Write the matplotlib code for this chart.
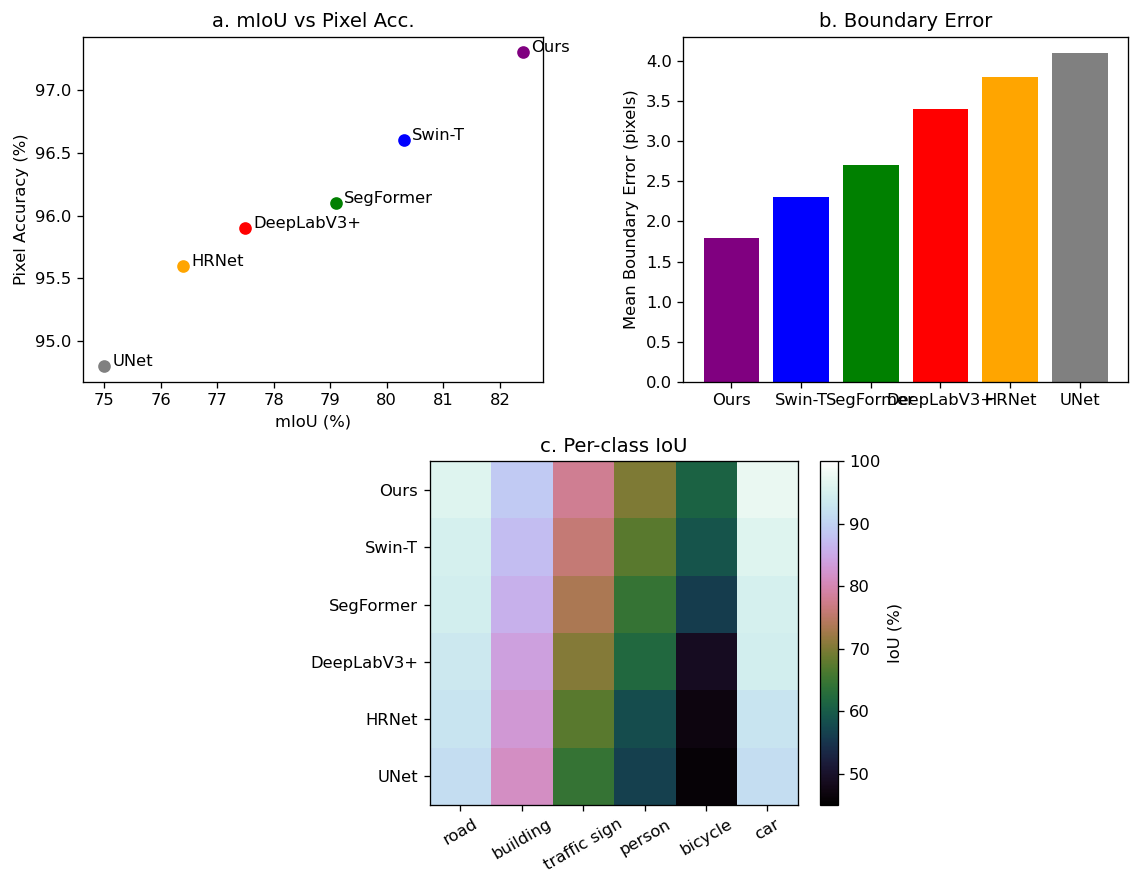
import matplotlib
matplotlib.use("Agg")
import matplotlib.pyplot as plt
import numpy as np

# models and results
models = ['Ours', 'Swin-T', 'SegFormer', 'DeepLabV3+', 'HRNet', 'UNet']
colors = ['purple', 'blue', 'green', 'red', 'orange', 'gray']
miou = [82.4, 80.3, 79.1, 77.5, 76.4, 75.0]
pixel_acc = [97.3, 96.6, 96.1, 95.9, 95.6, 94.8]
boundary_err = [1.8, 2.3, 2.7, 3.4, 3.8, 4.1]

classes = ['road', 'building', 'traffic sign', 'person', 'bicycle', 'car']
# rows = models, cols = classes
iou_ours = [96, 89, 78, 70, 61, 97.5]
iou_swin = [95, 87.5, 76, 67.5, 59, 96]
iou_segformer = [94.5, 86, 73.5, 64.5, 56, 95]
iou_deeplab = [93.5, 84, 70.5, 62, 49, 94.5]
iou_hrnet = [92.5, 83, 67.5, 58, 47, 92.5]
iou_unet = [91.5, 81.5, 64.5, 56.5, 46, 91.5]
iou = np.array([iou_ours, iou_swin, iou_segformer, iou_deeplab, iou_hrnet, iou_unet])

dpi = 118
fig = plt.figure(figsize=(1137 / dpi, 870 / dpi), dpi=dpi)

# a. scatter
ax1 = fig.add_axes([0.073, 0.561, 0.405, 0.397])
for m, x, y, c in zip(models, miou, pixel_acc, colors):
    ax1.scatter(x, y, color=c, s=45)
    ax1.text(x + 0.15, y, m)
ax1.set_title('a. mIoU vs Pixel Acc.')
ax1.set_xlabel('mIoU (%)')
ax1.set_ylabel('Pixel Accuracy (%)')

# b. bars
ax2 = fig.add_axes([0.601, 0.561, 0.391, 0.397])
ax2.bar(models, boundary_err, color=colors)
ax2.set_title('b. Boundary Error')
ax2.set_ylabel('Mean Boundary Error (pixels)')

# c. heatmap
ax3 = fig.add_axes([0.378, 0.0747, 0.324, 0.395])
im = ax3.imshow(iou, cmap='cubehelix', vmin=45, vmax=100, aspect='auto')
ax3.set_xticks(range(len(classes)))
ax3.set_xticklabels(classes, rotation=30)
ax3.set_yticks(range(len(models)))
ax3.set_yticklabels(models)
ax3.set_title('c. Per-class IoU')
cax = fig.add_axes([0.721, 0.0747, 0.0158, 0.395])
cb = fig.colorbar(im, cax=cax)
cb.set_label('IoU (%)')

fig.savefig('out.png', dpi=dpi)
